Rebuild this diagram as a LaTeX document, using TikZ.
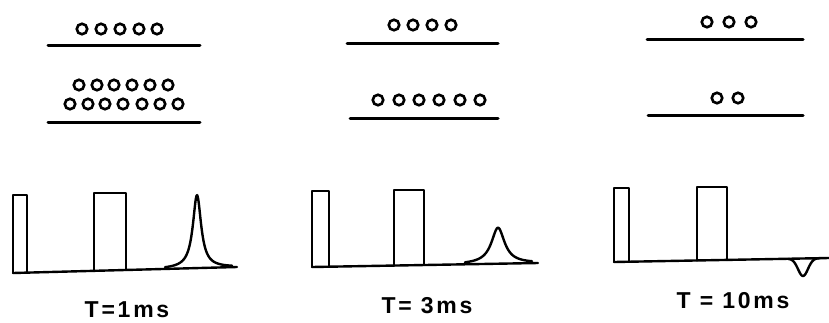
\documentclass[tikz,border=0pt]{standalone}
\usepackage{fontspec}
\newfontfamily\lblfont[LetterSpace=12]{Liberation Sans}
\usetikzlibrary{positioning}

\begin{document}
\begin{tikzpicture}[
        x=1pt,y=-1pt,
        spin/.style={circle,draw,line width=2.6pt,inner sep=0pt,minimum size=10.5pt},
        level/.style={line width=3pt,line cap=round},
        trace/.style={line width=2.4pt,line join=round,line cap=round},
        lbl/.style={font=\lblfont\bfseries\fontsize{23}{27}\selectfont}
      ]
        \useasboundingbox (0,0) rectangle (829,322);
        % populations, T = 1 ms
        \foreach \x [count=\i] in {82,101,120,139,157}
          \node[spin] (a\i) at (\x,29) {};
        \draw[level] (48,45) -- (200,45);
        \foreach \x [count=\i] in {79,97,114,132,150,168}
          \node[spin] (b\i) at (\x,85) {};
        \foreach \x [count=\i] in {70,88,105,123,142,160,178}
          \node[spin] (c\i) at (\x,104) {};
        \draw[level] (48,122) -- (200,122);
        % populations, T = 3 ms
        \foreach \x [count=\i] in {394,413,432,451}
          \node[spin] (d\i) at (\x,25) {};
        \draw[level] (347,43) -- (498,43);
        \foreach \x [count=\i] in {378,399,419,439,460,480}
          \node[spin] (e\i) at (\x,100) {};
        \draw[level] (350,118) -- (498,118);
        % populations, T = 10 ms
        \foreach \x [count=\i] in {707,729,751}
          \node[spin] (f\i) at (\x,22) {};
        \draw[level] (647,39) -- (803,39);
        \foreach \x [count=\i] in {717,738}
          \node[spin] (g\i) at (\x,98) {};
        \draw[level] (648,115) -- (803,115);

        % pulse sequences
        \draw[trace] (13,273) -- (237,267);
        \draw[trace] (13,273) -- (13,195) -- (27,195) -- (27,272.6);
        \draw[trace] (94,270.8) -- (94,193) -- (126,193) -- (126,270);
        \draw[trace] plot[domain=165:232,samples=120,smooth]
          (\x,{273-(\x-13)*6/224-73/(1+((\x-197)/5)^2)});

        \draw[trace] (312,267) -- (538,263);
        \draw[trace] (312,267) -- (312,191) -- (329,191) -- (329,266.7);
        \draw[trace] (394,265.6) -- (394,190) -- (424,190) -- (424,265);
        \draw[trace] plot[domain=465:532,samples=100,smooth]
          (\x,{267-(\x-313)*4/225-36/(1+((\x-498)/8)^2)});

        \draw[trace] (614,262) -- (829,258);
        \draw[trace] (614,262) -- (614,188) -- (629,188) -- (629,261.7);
        \draw[trace] (697,260.5) -- (697,187) -- (727,187) -- (727,259.9);
        \draw[trace] plot[domain=788:820,samples=60,smooth]
          (\x,{262-(\x-615)*4/214+17.5*exp(-((\x-803)/7)^2)});

        % delay labels
        \node[lbl] (t1) at (127,310) {T=1ms};
        \node[lbl] (t2) at (427,306) {T= 3ms};
        \node[lbl] (t3) at (733,301) {T = 10ms};
      \end{tikzpicture}
\end{document}
